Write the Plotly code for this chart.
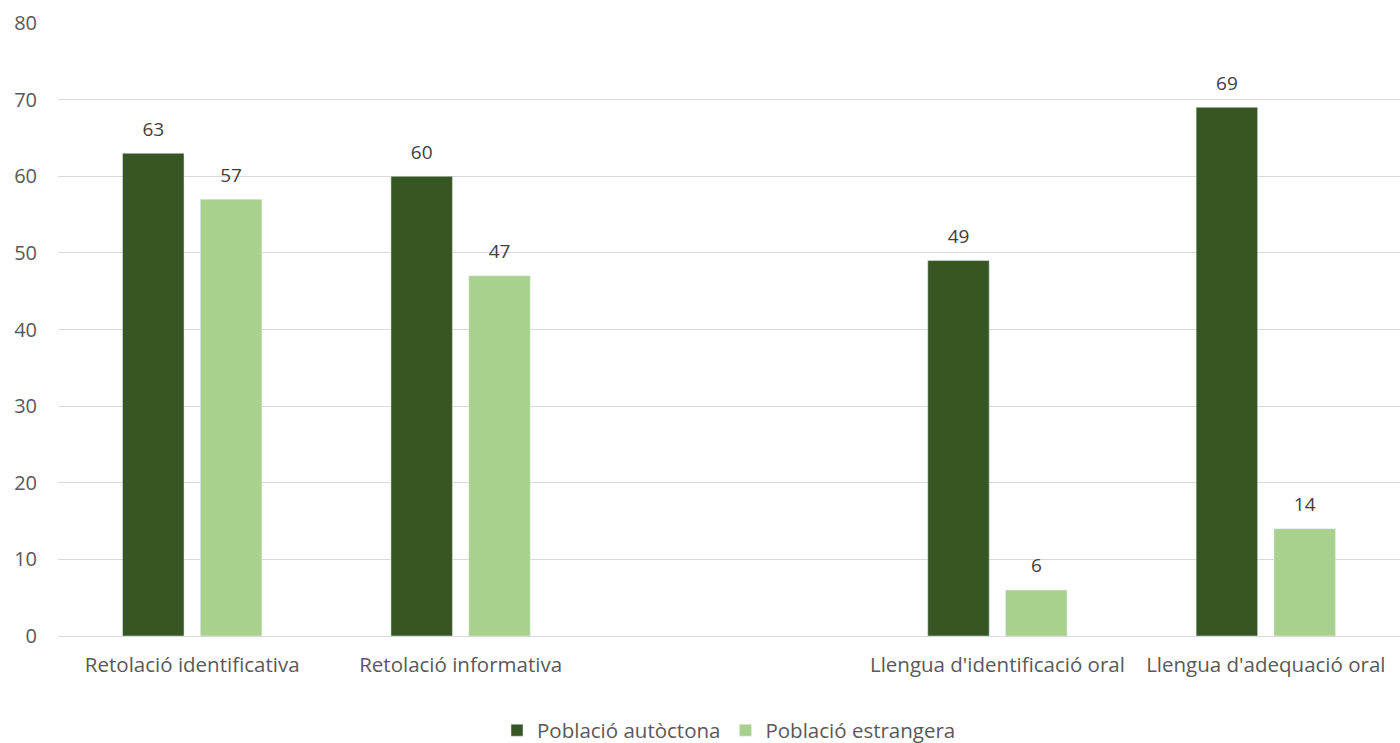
import plotly.graph_objects as go

categories = ["Retolació identificativa", "Retolació informativa", " ",
              "Llengua d'identificació oral", "Llengua d'adequació oral"]
autoctona = [63, 60, None, 49, 69]
estrangera = [57, 47, None, 6, 14]
y_ticks = [0, 10, 20, 30, 40, 50, 60, 70, 80]

FONT = "'Open Sans', Lato, sans-serif"
LABEL = "<span style='font-size:19px'>%{y}</span><br> "

fig = go.Figure()
fig.add_trace(go.Bar(
    x=categories, y=autoctona, name="Població autòctona",
    marker=dict(color="#375623"),
    texttemplate=LABEL, textposition="outside",
    textfont=dict(size=9, color="#404040", family=FONT), cliponaxis=False,
))
fig.add_trace(go.Bar(
    x=categories, y=estrangera, name="Població estrangera",
    marker=dict(color="#A9D18E"),
    texttemplate=LABEL, textposition="outside",
    textfont=dict(size=9, color="#404040", family=FONT), cliponaxis=False,
))

fig.update_layout(
    width=1400, height=743,
    margin=dict(l=58, r=0, t=23, b=107),
    plot_bgcolor="white", paper_bgcolor="white",
    barmode="group", bargap=0.42, bargroupgap=0.21,
    font=dict(family=FONT, size=19, color="#595959"),
    legend=dict(orientation="h", x=0.5, xanchor="center",
                yref="container", y=0.017, yanchor="middle",
                font=dict(size=20.5, color="#595959"), itemwidth=30, traceorder="normal"),
    xaxis=dict(type="category", categoryorder="array", categoryarray=categories,
               showgrid=False, showline=True, linecolor="#d9d9d9", linewidth=1,
               automargin=False,
               ticks="", tickfont=dict(size=20.5, color="#595959"), ticklabelstandoff=10),
    yaxis=dict(range=[0, 80], tickvals=y_ticks, showgrid=True, gridcolor="#d9d9d9",
               zeroline=False, showline=False, ticks="", automargin=False,
               tickfont=dict(size=20, color="#595959"), ticklabelstandoff=20),
)

fig.write_html(
    "out.html",
    config={"displayModeBar": False},
    post_script="document.body.style.margin='0';document.body.style.overflow='hidden';",
)
